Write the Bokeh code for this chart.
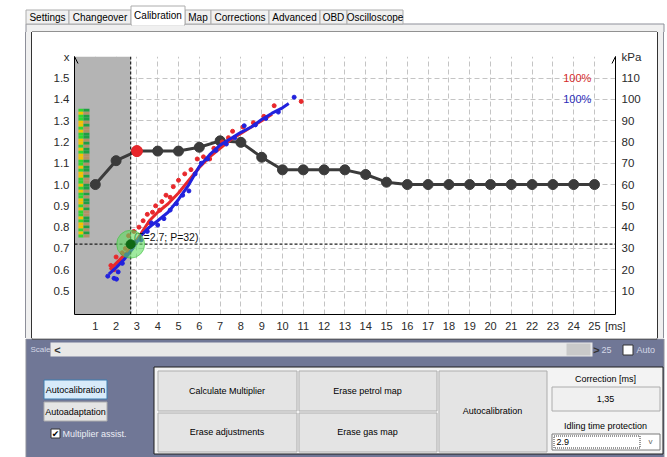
from bokeh.plotting import figure
from bokeh.layouts import column, row
from bokeh.models import (Range1d, LinearAxis, FixedTicker, BoxAnnotation, Label, Span,
                          Arrow, OpenHead, PrintfTickFormatter, Spacer)
from bokeh.core.properties import value
from bokeh.embed import file_html
from bokeh.resources import INLINE

# ---------------- data ----------------
petrol_ms = list(range(1, 26))
multiplier = [1.000, 1.112, 1.157, 1.157, 1.157, 1.175, 1.205, 1.198, 1.128, 1.069,
              1.069, 1.069, 1.069, 1.047, 1.011, 1.000, 1.000, 1.000, 1.000, 1.000,
              1.000, 1.000, 1.000, 1.000, 1.000]
active_cell = 3
t_cur = 2.7
p_cur = 32

red_line_x = [1.7, 2.0, 2.4, 2.8, 3.2, 3.6, 4.0, 4.5, 5.0, 5.5, 6.0, 6.5, 7.0, 7.5, 8.0, 8.5, 9.0, 9.5]
red_line_y = [0.60, 0.63, 0.67, 0.71, 0.77, 0.83, 0.87, 0.91, 0.96, 1.02, 1.08, 1.13, 1.17, 1.21, 1.24, 1.27, 1.30, 1.33]
blue_line_x = [1.65, 2.0, 2.4, 2.8, 3.2, 3.6, 4.0, 4.5, 5.0, 5.5, 6.0, 6.5, 7.0, 7.5, 8.0, 8.5, 9.0, 9.5, 10.0, 10.3]
blue_line_y = [0.58, 0.61, 0.65, 0.70, 0.76, 0.80, 0.83, 0.87, 0.93, 1.00, 1.085, 1.14, 1.185, 1.215, 1.245, 1.27, 1.305, 1.335, 1.36, 1.38]

red_pts_x = [1.75, 1.9, 2.0, 2.2, 2.3, 2.45, 2.6, 2.85, 3.1, 3.3, 3.5, 3.6, 3.75, 3.9, 4.1, 4.2, 4.4, 4.6,
             4.75, 5.0, 5.3, 5.6, 5.9, 6.2, 6.5, 6.7, 7.1, 7.4, 7.6, 8.1, 8.6, 9.1, 9.6, 10.9]
red_pts_y = [0.62, 0.60, 0.66, 0.64, 0.68, 0.70, 0.76, 0.78, 0.80, 0.83, 0.86, 0.82, 0.87, 0.90, 0.88, 0.92,
             0.95, 0.94, 0.99, 1.02, 1.05, 1.07, 1.12, 1.13, 1.12, 1.17, 1.20, 1.22, 1.25, 1.27, 1.29, 1.32,
             1.37, 1.39]
blue_pts_x = [1.6, 1.9, 2.02, 2.1, 2.3, 2.5, 2.9, 3.2, 3.5, 3.7, 4.0, 4.3, 4.6, 4.9, 5.2, 5.5, 5.8,
              6.1, 6.4, 6.8, 7.3, 7.7, 8.16, 8.7, 9.2, 9.8, 10.56]
blue_pts_y = [0.57, 0.56, 0.556, 0.59, 0.63, 0.67, 0.73, 0.74, 0.78, 0.82, 0.81, 0.84, 0.88, 0.91, 0.95, 0.97, 1.05,
              1.10, 1.12, 1.16, 1.19, 1.22, 1.276, 1.28, 1.31, 1.34, 1.41]

x_ticks = list(range(1, 26))
y_ticks = [0.5, 0.6, 0.7, 0.8, 0.9, 1.0, 1.1, 1.2, 1.3, 1.4, 1.5]
kpa_ticks = [10, 20, 30, 40, 50, 60, 70, 80, 90, 100, 110]
kpa_offset = 0.4          # multiplier = 0.4 + kPa / 100
x_title, y_title, kpa_title = "[ms]", "x", "kPa"

# lambda history strip (top to bottom)
strip_left = "GYGGYYGYGGYYGYGYYGGYGYYGGYGYGGYYGYGGYGYYGYG"
strip_right = "DBDDBDBBDDBDBDDBBDBDDBDBBDDBDBDDBDBBDDBDBDB"
strip_top, strip_bottom = 1.356, 0.751
strip_cols = [0.19, 0.43, 0.72]
strip_colors = {"G": "#2fd82f", "Y": "#f2c200", "D": "#1f9e45", "B": "#b39068"}

legend_text = ["100%", "100%"]
tab_names = ["Settings", "Changeover", "Calibration", "Map", "Corrections", "Advanced", "OBD", "Oscilloscope"]
tab_edges = [25, 68, 130, 184, 210, 268, 319, 346, 402]
selected_tab = 2

FONT = "Liberation Sans"

# ---------------- chart ----------------
# chart canvas covers page pixels x 32..657, y 32..338 ; plot frame 74..615 x 56..314
CW, CH = 625, 306
p = figure(width=CW, height=CH, x_range=Range1d(0, 26.01), y_range=Range1d(0.39, 1.601),
           output_backend="svg", toolbar_location=None,
           min_border_left=42, min_border_right=42, min_border_top=24, min_border_bottom=24,
           background_fill_color="white", border_fill_color="white", outline_line_color=None)
p.extra_y_ranges = {"kpa": Range1d(-1, 120.1)}

def style_axis(ax, size="11.5px"):
    ax.axis_line_color = "black"
    ax.axis_line_width = 1
    ax.major_tick_in = 0
    ax.major_tick_out = 0
    ax.minor_tick_in = 0
    ax.minor_tick_out = 0
    ax.major_label_text_font = FONT
    ax.major_label_text_font_size = size
    ax.major_label_text_color = "#2a2a2a"
    ax.major_label_standoff = 5

p.xaxis.ticker = FixedTicker(ticks=x_ticks + [26])
p.xaxis.major_label_overrides = {26: x_title}
p.yaxis.ticker = FixedTicker(ticks=y_ticks + [1.6])
p.yaxis.formatter = PrintfTickFormatter(format="%.1f")
p.yaxis.major_label_overrides = {1.6: y_title}
style_axis(p.xaxis[0], "11px")
style_axis(p.yaxis[0])
rax = LinearAxis(y_range_name="kpa", ticker=FixedTicker(ticks=kpa_ticks + [120]))
rax.major_label_overrides = {120: kpa_title}
style_axis(rax)
rax.major_label_standoff = 6
p.add_layout(rax, "right")

p.xgrid.ticker = FixedTicker(ticks=x_ticks)
p.ygrid.ticker = FixedTicker(ticks=y_ticks)
for g in (p.xgrid[0], p.ygrid[0]):
    g.grid_line_color = "#c4c4c4"
    g.grid_line_dash = "5 3"
    g.grid_line_width = 1

# grey zone left of the current time
p.add_layout(BoxAnnotation(right=t_cur, fill_color="#b4b4b4", fill_alpha=1.0,
                           line_alpha=0, level="underlay"))

# lambda strip
for ci, pattern in enumerate([strip_left, strip_right]):
    n = len(pattern)
    step = (strip_top - strip_bottom) / n
    tops = [strip_top - i * step for i in range(n)]
    bots = [t - step for t in tops]
    cols = [strip_colors[c] for c in pattern]
    p.quad(left=strip_cols[ci], right=strip_cols[ci + 1], top=tops, bottom=bots,
           fill_color=cols, line_color=None)

# current position guides
p.add_layout(Span(location=t_cur, dimension="height", line_color="#1e1e1e",
                  line_dash="3 2", line_width=1.2))
p.add_layout(Span(location=kpa_offset + p_cur / 100, dimension="width", line_color="#1e1e1e",
                  line_dash="3 2", line_width=1.2))

# petrol multiplier map
p.line(petrol_ms, multiplier, line_color="#3b3b3b", line_width=3)
p.scatter(petrol_ms, multiplier, size=10, fill_color="#3b3b3b", line_color="#3b3b3b")
p.scatter([petrol_ms[active_cell - 1]], [multiplier[active_cell - 1]], size=11,
          fill_color="#e8262b", line_color="#e8262b")

# gas / petrol samples
p.line(red_line_x, red_line_y, line_color="#e8282c", line_width=3)
p.scatter(red_pts_x, red_pts_y, size=4, fill_color="#e8282c", line_color="#e8282c")
p.line(blue_line_x, blue_line_y, line_color="#2222dd", line_width=3)
p.scatter(blue_pts_x, blue_pts_y, size=4, fill_color="#2222dd", line_color="#2222dd")

p.add_layout(Label(x=t_cur, y=kpa_offset + p_cur / 100, x_offset=3, y_offset=7.5,
                   text="(T=%g; P=%d)" % (t_cur, p_cur), text_font=FONT, text_font_size="10.5px",
                   text_color="#111111", text_align="left", text_baseline="middle"))
p.scatter([t_cur], [kpa_offset + p_cur / 100], size=28, fill_color="#5fdc5f", fill_alpha=0.6,
          line_color="#3fbf3f", line_alpha=0.6, level="overlay")
p.scatter([t_cur], [kpa_offset + p_cur / 100], size=9, fill_color="#0f6a14",
          line_color="#0f6a14", level="overlay")

# legend percentages
p.add_layout(Label(x=24.17, y=y_ticks[-1], text=legend_text[0], text_font=FONT, text_font_size="11px",
                   text_color="#d42a2a", text_align="center", text_baseline="middle"))
p.add_layout(Label(x=24.17, y=y_ticks[-2], text=legend_text[1], text_font=FONT, text_font_size="11px",
                   text_color="#2b2bb8", text_align="center", text_baseline="middle"))

# axis arrows
for xa in (0, 26.01):
    p.add_layout(Arrow(x_start=xa, y_start=1.5, x_end=xa, y_end=1.601, line_color="black", line_width=1,
                       end=OpenHead(size=7, line_color="black", line_width=1)))

# ---------------- window chrome (canvases in page-pixel coordinates) ----------------
def chrome(x0, y0, w, h):
    f = figure(width=w, height=h, x_range=Range1d(x0, x0 + w), y_range=Range1d(y0 + h, y0),
               output_backend="svg", toolbar_location=None, min_border=0,
               x_axis_location=None, y_axis_location=None,
               background_fill_color="white", border_fill_color="white", outline_line_color=None)
    f.grid.visible = False
    return f

def box(f, x1, y1, x2, y2, fill=None, line=None, lw=1, dash="solid"):
    f.quad(left=[x1], right=[x2], top=[y1], bottom=[y2],
           fill_color=fill if fill else "white", fill_alpha=1.0 if fill else 0.0,
           line_color=line if line else "white", line_alpha=1.0 if line else 0.0,
           line_width=lw, line_dash=dash)

def txt(f, x, y, s, size="9.5px", color="#000000", align="left", font=FONT, style="normal"):
    f.text(x=[x], y=[y], text=[s], text_font=value(font), text_font_size=value(size),
           text_color=color, text_font_style=style, text_align=align, text_baseline="middle")

PANEL = "#f0f0f0"
PLINE = "#8d8f99"
BOXLINE = "#333333"

# top strip: page y 0..32
top = chrome(0, 0, 667, 32)
box(top, 25.5, 23.5, 663.5, 60, fill=PANEL, line=PLINE)
box(top, 31.5, 31.5, 656.5, 60, fill="white", line=BOXLINE)
for i, name in enumerate(tab_names):
    if i == selected_tab:
        continue
    x1, x2 = tab_edges[i] + 0.5, tab_edges[i + 1] + 0.5
    box(top, x1, 9.5, x2, 23.5, fill="#f0f0f0", line="#acacac")
    txt(top, (x1 + x2) / 2, 16.5, name, size="10px", align="center")
x1, x2 = tab_edges[selected_tab] + 0.5, tab_edges[selected_tab + 1] + 0.5
box(top, x1, 5.5, x2, 24.5, fill="white", line="#acacac")
box(top, x1 + 1, 22, x2 - 1, 25, fill="white")
txt(top, (x1 + x2) / 2, 14.5, tab_names[selected_tab], size="10px", align="center")

# side strips of the tab panel, painted as the row's background
side_css = ("linear-gradient(to right, #ffffff 0px, #ffffff 25px, #8d8f99 25px, #8d8f99 26px, "
            "#f0f0f0 26px, #f0f0f0 31px, #333333 31px, #333333 32px, #ffffff 32px, #ffffff 657px, "
            "#333333 657px, #333333 658px, #f0f0f0 658px, #f0f0f0 663px, #8d8f99 663px, "
            "#8d8f99 664px, #ffffff 664px, #ffffff 667px)")
middle = row(Spacer(width=32, height=CH), p, Spacer(width=10, height=CH), spacing=0,
             styles={"background": side_css})

# bottom area: page y 338..457
bot = chrome(0, 338, 667, 119)
LOW = "#707796"
box(bot, 25.5, 338.5, 663.5, 470, fill=LOW, line=PLINE)
box(bot, 31.5, 300, 656.5, 338.5, fill="white", line=BOXLINE)
LIGHT = "#d4d7e6"
txt(bot, 30, 349, "Scale", size="8px", color=LIGHT)
box(bot, 50, 342, 592, 356, fill="#e8e8e8")
txt(bot, 57, 349, "<", size="11px", color="#333333", align="center", style="bold")
box(bot, 566, 343, 590, 355, fill="#c9c9c9")
txt(bot, 596, 349, ">", size="11px", color="#333333", align="center", style="bold")
txt(bot, 601, 349, "25", size="9px", color=LIGHT)
box(bot, 622.5, 344.5, 632.5, 354.5, fill="white", line="#333333")
txt(bot, 636, 349, "Auto", size="9px", color=LIGHT)

box(bot, 43.5, 379.5, 106.5, 398.5, fill="#d8ebfa", line="#3c7fb1")
txt(bot, 75, 389, "Autocalibration", size="9px", align="center")
box(bot, 43.5, 401.5, 106.5, 420.5, fill="#e5e5e5", line="#adadad")
txt(bot, 75, 411, "Autoadaptation", size="9px", align="center")
box(bot, 50.5, 428.5, 59.5, 437.5, fill="white", line="#333333")
txt(bot, 55, 433, "\u2714", size="9px", align="center", font="DejaVu Sans")
txt(bot, 62, 433, "Multiplier assist.", size="9px", color="#eceef5")

box(bot, 153.5, 366.5, 662.5, 453.5, fill="#f3f3f3", line="#1e1e1e")
buttons = [("Calculate Multiplier", 157, 370, 296, 410), ("Erase petrol map", 298, 370, 436, 410),
           ("Erase adjustments", 157, 412, 296, 451), ("Erase gas map", 298, 412, 436, 451),
           ("Autocalibration", 438, 370, 546, 451)]
for name, bx1, by1, bx2, by2 in buttons:
    box(bot, bx1 + 0.5, by1 + 0.5, bx2 + 0.5, by2 + 0.5, fill="#e4e4e4", line="#adadad")
    txt(bot, (bx1 + bx2) / 2, (by1 + by2) / 2, name, size="9px", align="center")
txt(bot, 605, 378, "Correction [ms]", size="9px", align="center")
box(bot, 551.5, 386.5, 659.5, 410.5, fill="#f0f0f0", line="#acacac")
txt(bot, 605, 398, "1,35", size="9px", align="center")
txt(bot, 605, 425, "Idling time protection", size="9px", align="center")
box(bot, 551.5, 433.5, 659.5, 449.5, fill="white", line="#7a7a7a")
box(bot, 553.5, 435.5, 639.5, 447.5, line="#333333", dash="1 1")
txt(bot, 556, 441, "2.9", size="9px")
txt(bot, 650, 441, "v", size="8px", color="#666666", align="center")

layout = column(top, middle, bot, spacing=0)
open("out.html", "w").write(file_html(layout, INLINE))
